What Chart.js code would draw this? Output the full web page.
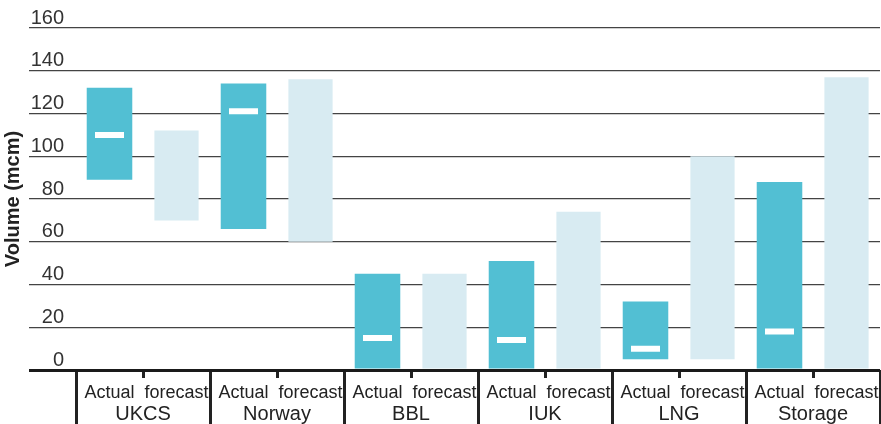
<!DOCTYPE html>
<html>
<head>
<meta charset="utf-8">
<script src="https://cdn.jsdelivr.net/npm/chart.js@4.4.1/dist/chart.umd.min.js"></script>
<style>
  html, body { margin: 0; padding: 0; background: #fff; }
  #wrap { width: 881px; height: 424px; }
</style>
</head>
<body>
<div id="wrap"><canvas id="volumeChart"></canvas></div>
<script>
/* Data */
const groups = ['UKCS', 'Norway', 'BBL', 'IUK', 'LNG', 'Storage'];
const subLabels = ['Actual', 'forecast'];
const actualLow = [89, 66, 0, 0, 5, 0];
const actualHigh = [132, 134, 45, 51, 32, 88];
const actualMark = [110, 121, 15, 14, 10, 18];
const forecastLow = [70, 60, 0, 0, 5, 0];
const forecastHigh = [112, 136, 45, 74, 100, 137];
const yMin = 0;
const yMax = 160;
const yStep = 20;

// two categories per group: actual then forecast
const categories = [];
const actualData = [];
const forecastData = [];
const markData = [];
groups.forEach((g, i) => {
  categories.push(subLabels[0], subLabels[1]);
  actualData.push([actualLow[i], actualHigh[i]], null);
  forecastData.push(null, [forecastLow[i], forecastHigh[i]]);
  markData.push(actualMark[i], null);
});

const mainFont = "'Liberation Sans', Arial, sans-serif";

// keep label overhang from shrinking the plot area
function noSidePadding(scale) {
  scale.paddingLeft = 0;
  scale.paddingRight = 0;
}

const ctx = document.getElementById('volumeChart').getContext('2d');

const volumeChart = new Chart(ctx, {
  data: {
    labels: categories,
    datasets: [
      {
        type: 'line',
        label: 'Actual average',
        data: markData,
        order: 0,
        showLine: false,
        pointStyle: 'line',
        pointRadius: 14.5,
        pointHoverRadius: 14.5,
        pointBorderWidth: 6,
        pointHoverBorderWidth: 6,
        pointBorderColor: '#ffffff',
        pointBackgroundColor: '#ffffff'
      },
      {
        type: 'bar',
        label: 'Actual',
        data: actualData,
        order: 1,
        grouped: false,
        barPercentage: 0.68,
        categoryPercentage: 1,
        backgroundColor: '#52BFD3'
      },
      {
        type: 'bar',
        label: 'forecast',
        data: forecastData,
        order: 1,
        grouped: false,
        barPercentage: 0.66,
        categoryPercentage: 1,
        backgroundColor: '#D8EBF2'
      }
    ]
  },
  options: {
    responsive: true,
    maintainAspectRatio: false,
    animation: false,
    layout: {
      autoPadding: false,
      padding: { top: 28, right: 1, left: 0, bottom: 0 }
    },
    plugins: {
      legend: { display: false },
      tooltip: { enabled: false }
    },
    scales: {
      x: {
        type: 'category',
        position: 'bottom',
        offset: true,
        grid: {
          offset: true,
          drawOnChartArea: false,
          tickLength: 8,
          lineWidth: 3,
          color: '#222'
        },
        border: { display: false },
        ticks: {
          autoSkip: false,
          maxRotation: 0,
          padding: 4,
          color: '#222',
          font: { family: mainFont, size: 18 }
        },
        afterFit: function (scale) {
          scale.height = 54;
          noSidePadding(scale);
        }
      },
      group: {
        type: 'category',
        axis: 'x',
        labels: groups,
        position: { y: 0 },
        offset: true,
        grid: {
          offset: true,
          drawOnChartArea: false,
          tickLength: 54,
          lineWidth: 3,
          color: '#222'
        },
        border: { display: false },
        ticks: {
          autoSkip: false,
          maxRotation: 0,
          padding: -22,
          color: '#222',
          font: { family: mainFont, size: 20 }
        },
        afterFit: noSidePadding
      },
      y: {
        type: 'linear',
        min: yMin,
        max: yMax,
        ticks: {
          stepSize: yStep,
          padding: -35,
          labelOffset: -10,
          color: '#333',
          font: { family: mainFont, size: 20 }
        },
        grid: {
          tickLength: 47,
          color: function (context) {
            if (context.tick.value == 0) {
              return '#1a1a1a';
            }
            return '#444';
          },
          lineWidth: function (context) {
            if (context.tick.value == 0) {
              return 3;
            }
            return 1.2;
          }
        },
        border: { display: false },
        title: {
          display: true,
          text: 'Volume (mcm)',
          color: '#222',
          padding: { top: 1.5, bottom: 0 },
          font: { family: mainFont, size: 20, weight: 'bold' }
        },
        afterFit: function (scale) {
          scale.width = 76;
        }
      }
    }
  }
});
</script>
</body>
</html>
